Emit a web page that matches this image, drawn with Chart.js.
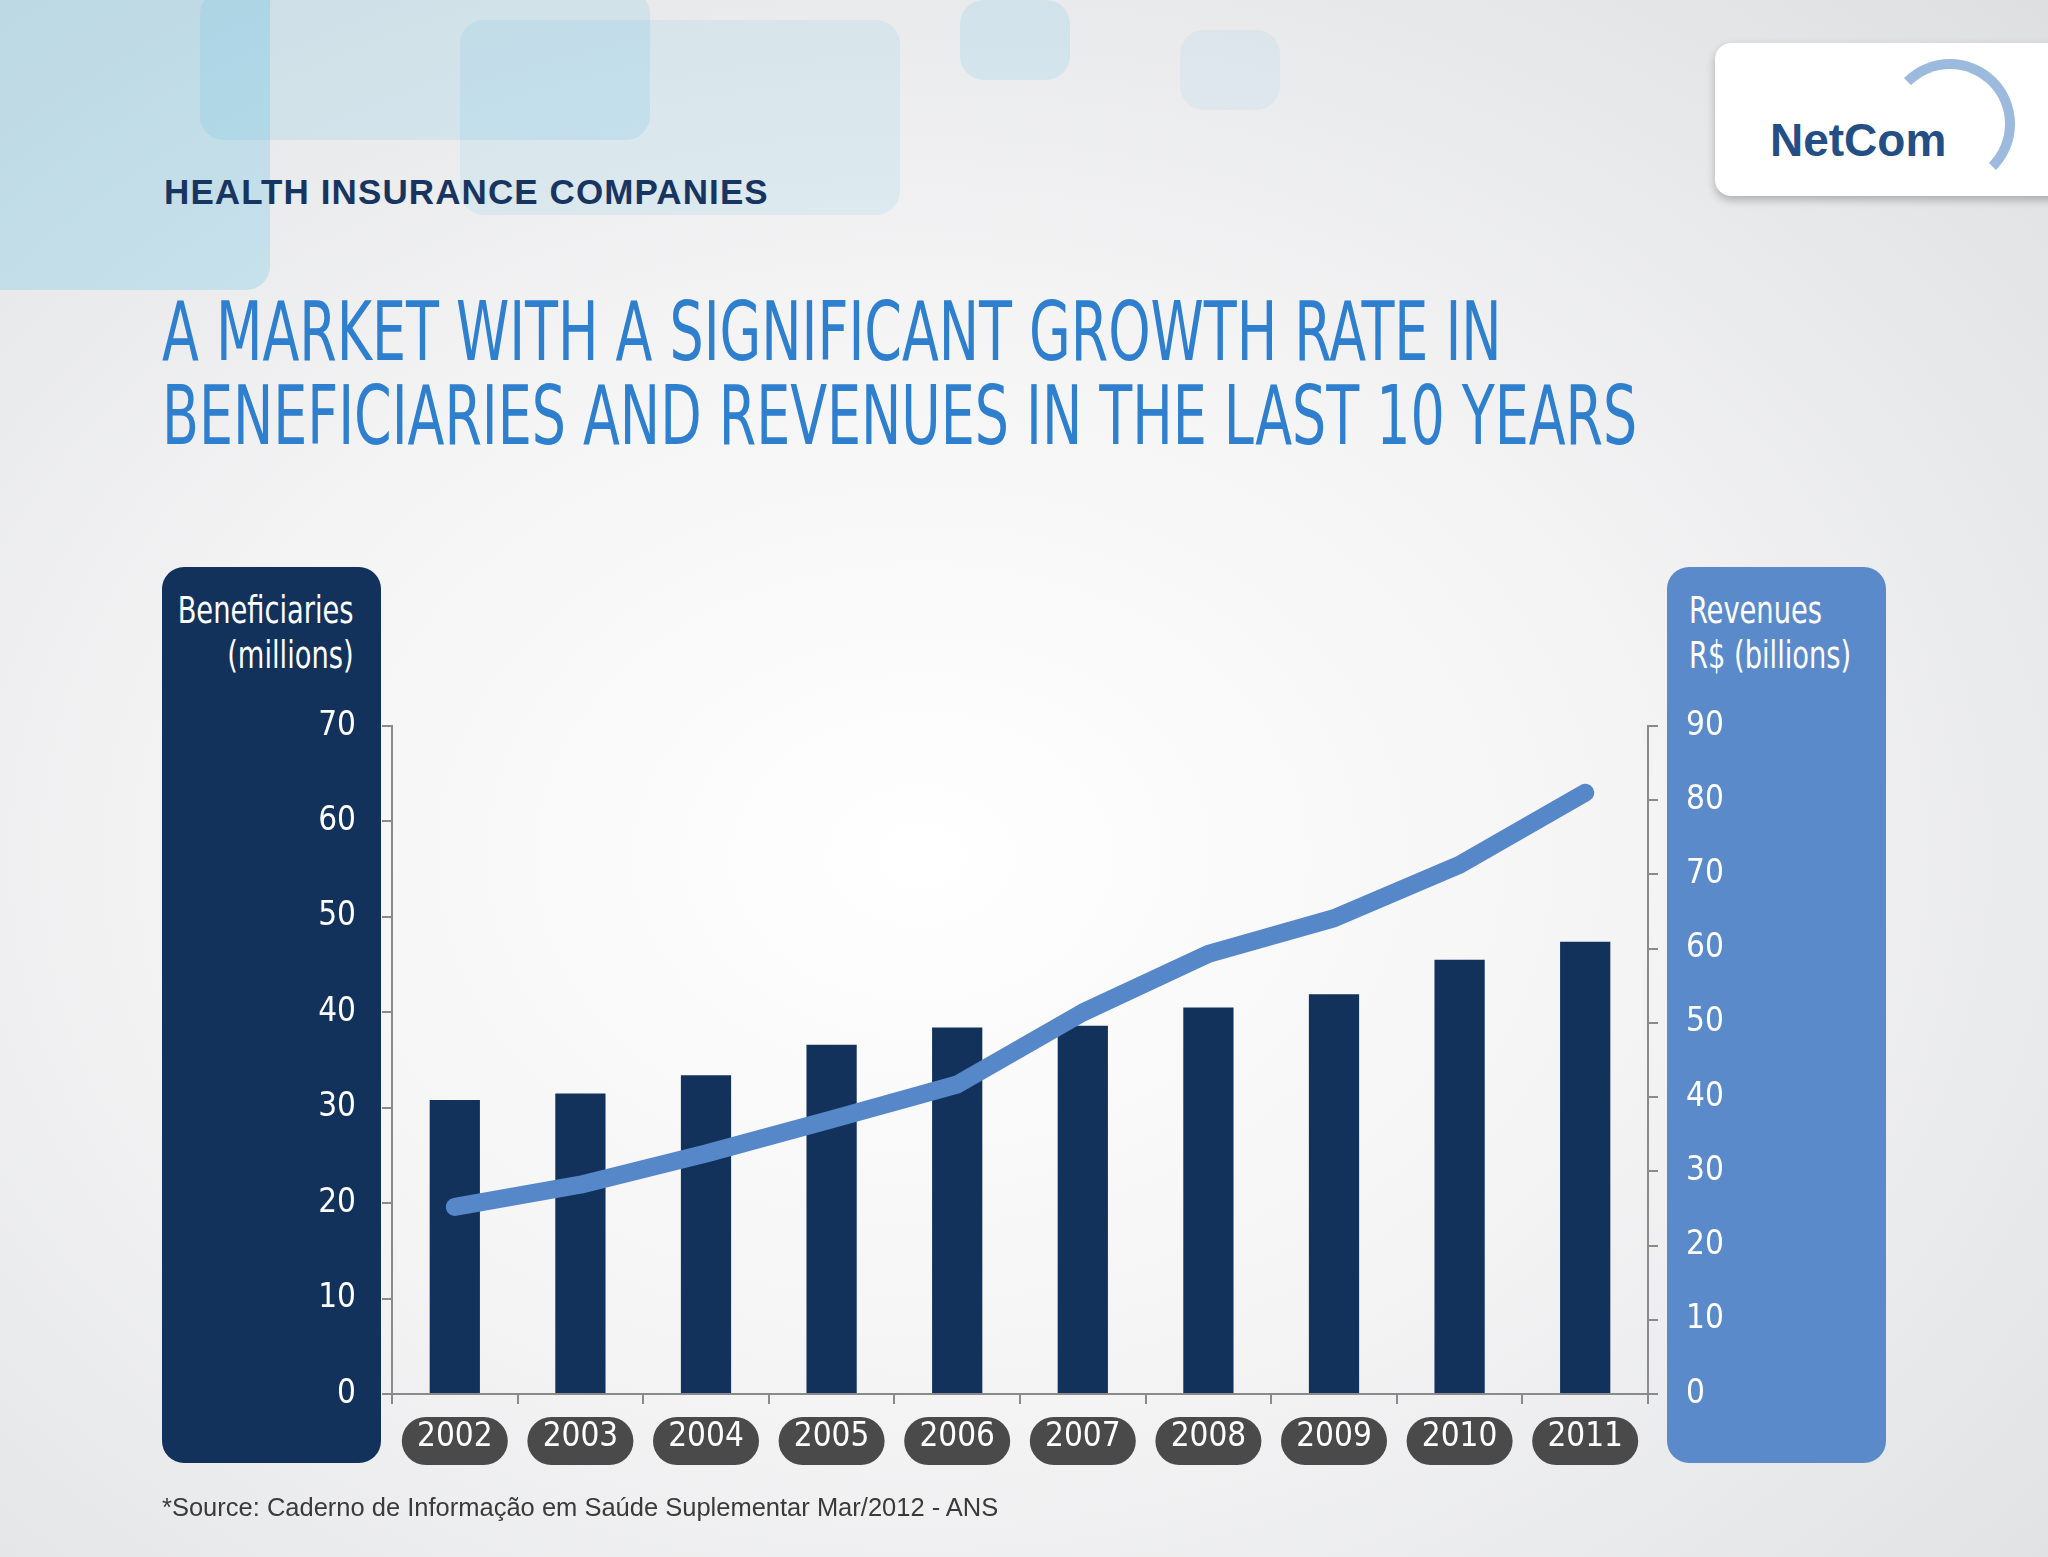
<!DOCTYPE html>
<html>
<head>
<meta charset="utf-8">
<script src="https://cdn.jsdelivr.net/npm/chart.js@4.4.1/dist/chart.umd.min.js"></script>
<style>
	html, body { margin: 0; padding: 0; }
	body {
		width: 2048px; height: 1557px; position: relative; overflow: hidden;
		font-family: 'DejaVu Sans Condensed', sans-serif;
		background:
			radial-gradient(ellipse at 45% 55%, #ffffff 0%, #f4f4f5 45%, #dedfe1 100%);
	}
	.sq { position: absolute; border-radius: 24px; background: rgba(60, 180, 225, 0.22); }
	.panel { position: absolute; top: 567px; height: 896px; width: 219px; border-radius: 22px; }
	.panel.left { left: 162px; background: #12325c; }
	.panel.right { left: 1667px; background: #5b8acb; }
	.ptitle { position: absolute; top: 588px; color: #fff; font-size: 37px; line-height: 45px;
		font-family: 'DejaVu Sans Condensed', sans-serif; white-space: nowrap; }
	.ptitle.left { right: 1694px; text-align: right; transform: scaleX(0.82); transform-origin: right; }
	.ptitle.right { left: 1689px; text-align: left; transform: scaleX(0.82); transform-origin: left; }
	#heading { position: absolute; left: 164px; top: 172px; font-family: 'Liberation Sans', Arial, sans-serif;
		font-size: 35px; font-weight: bold; color: #173560; letter-spacing: 1.1px; }
	#title { position: absolute; left: 162px; top: 290px; font-size: 82px; line-height: 84px; color: #2f7fcf;
		font-family: 'DejaVu Sans Condensed', sans-serif; white-space: nowrap;
		transform: scaleX(0.73); transform-origin: left top; }
	#source { position: absolute; left: 162px; top: 1493px; font-family: 'Liberation Sans', Arial, sans-serif;
		font-size: 25.5px; color: #3a3a3a; }
	#logo { position: absolute; left: 1715px; top: 43px; width: 340px; height: 153px; background: #fff;
		border-radius: 16px 0 0 16px; box-shadow: 0 4px 8px rgba(0,0,0,0.25); }
	#logo span { position: absolute; left: 55px; top: 70px; font-family: 'Liberation Sans', Arial, sans-serif;
		font-weight: bold; font-size: 46px; color: #234f86; }
	#logo i { position: absolute; left: 170px; top: 16px; width: 110px; height: 110px; border-radius: 50%;
		border: 10px solid rgba(90,140,200,0.6); border-left-color: transparent; border-bottom-color: transparent; }
	canvas { position: absolute; left: 0; top: 0; }
</style>
</head>
<body>
<div class="sq" style="left:-20px;top:-30px;width:290px;height:320px;"></div>
<div class="sq" style="left:200px;top:-10px;width:450px;height:150px;opacity:.6"></div>
<div class="sq" style="left:460px;top:20px;width:440px;height:195px;opacity:.5"></div>
<div class="sq" style="left:960px;top:0;width:110px;height:80px;opacity:.6"></div>
<div class="sq" style="left:1180px;top:30px;width:100px;height:80px;opacity:.35"></div>
<div id="logo"><i></i><span>NetCom</span></div>
<div id="heading">HEALTH INSURANCE COMPANIES</div>
<div id="title">A MARKET WITH A SIGNIFICANT GROWTH RATE IN<br>BENEFICIARIES AND REVENUES IN THE LAST 10 YEARS</div>
<div class="panel left"></div>
<div class="panel right"></div>
<div class="ptitle left">Beneficiaries<br>(millions)</div>
<div class="ptitle right">Revenues<br>R$ (billions)</div>
<canvas id="chart" width="2048" height="1557"></canvas>
<div id="source">*Source: Caderno de Informação em Saúde Suplementar Mar/2012 - ANS</div>
<script>
const years = ['2002', '2003', '2004', '2005', '2006', '2007', '2008', '2009', '2010', '2011'],
	beneficiaries = [30.8, 31.5, 33.4, 36.6, 38.4, 38.6, 40.5, 41.9, 45.5, 47.4],
	revenues = [25.2, 28.2, 32.4, 37.0, 41.7, 51.4, 59.3, 64.1, 71.3, 81.0]

const tickFont = { family: "'DejaVu Sans Condensed', sans-serif", size: 33 }

const pills = {
	id: 'pills',
	beforeDraw(chart) {
		const ctx = chart.ctx, x = chart.scales.x, cy = x.top + 47
		ctx.save()
		ctx.fillStyle = '#4a4a4a'
		years.forEach((y, i) => {
			const cx = x.getPixelForValue(i)
			ctx.beginPath()
			ctx.roundRect(cx - 53, cy - 24, 106, 48, 24)
			ctx.fill()
		})
		ctx.restore()
	}
}

new Chart(document.getElementById('chart'), {
	data: {
		labels: years,
		datasets: [
			{ type: 'line', data: revenues, yAxisID: 'y2', borderColor: '#5587c9', borderWidth: 18,
				borderCapStyle: 'round', borderJoinStyle: 'round', pointRadius: 0, tension: 0, order: 0 },
			{ type: 'bar', data: beneficiaries, yAxisID: 'y', backgroundColor: '#12325c',
				barPercentage: 0.4, categoryPercentage: 1, order: 1 }
		]
	},
	options: {
		responsive: false,
		animation: false,
		layout: { padding: { left: 162, right: 162, top: 726, bottom: 77 } },
		plugins: { legend: { display: false }, tooltip: { enabled: false } },
		scales: {
			x: {
				afterFit: s => { s.height = 86 },
				grid: { drawOnChartArea: false, offset: true, tickLength: 10, color: '#8a8a8a', lineWidth: 2 },
				border: { color: '#8a8a8a', width: 2 },
				ticks: { color: '#ffffff', font: tickFont, padding: 14 }
			},
			y: {
				position: 'left', min: 0, max: 70,
				afterFit: s => { s.width = 230 },
				grid: { drawOnChartArea: false, tickLength: 10, color: '#8a8a8a', lineWidth: 2 },
				border: { color: '#8a8a8a', width: 2 },
				ticks: { stepSize: 10, color: '#ffffff', font: tickFont, padding: 26 }
			},
			y2: {
				position: 'right', min: 0, max: 90,
				afterFit: s => { s.width = 238 },
				grid: { drawOnChartArea: false, tickLength: 10, color: '#8a8a8a', lineWidth: 2 },
				border: { color: '#8a8a8a', width: 2 },
				ticks: { stepSize: 10, color: '#ffffff', font: tickFont, padding: 28 }
			}
		}
	},
	plugins: [pills]
})
</script>
</body>
</html>
